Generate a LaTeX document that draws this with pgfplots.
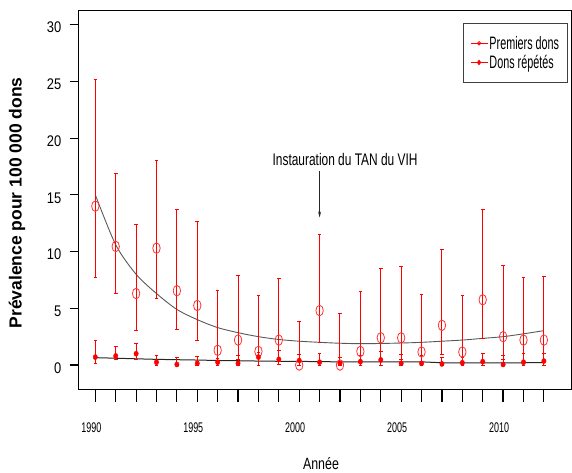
\documentclass[border=0pt]{standalone}
\usepackage{fontspec}
\setmainfont{Liberation Sans}
\newfontfamily\ytf[FakeStretch=0.84]{Liberation Sans}
\newfontfamily\xtf[FakeStretch=0.64]{Liberation Sans}
\newfontfamily\legf[FakeStretch=0.60]{Liberation Sans}
\newfontfamily\annf[FakeStretch=0.71]{Liberation Sans}
\newfontfamily\xlf[FakeStretch=0.76]{Liberation Sans}
\usepackage{pgfplots}
\usepackage{pgfplotstable}
\pgfplotsset{compat=1.18}
\usetikzlibrary{arrows.meta}

% premiers dons: point, error above, error below
\pgfplotstableread{
x     y     ep    em
1990  14.0  11.2  6.3
1991  10.45 6.45  4.15
1992  6.3   6.1   3.25
1993  10.3  7.7   4.45
1994  6.55  7.15  3.4
1995  5.25  7.4   3.1
1996  1.3   5.3   1.1
1997  2.2   5.7   1.75
1998  1.2   4.9   1.2
1999  2.2   5.4   1.9
2000  0.0   3.8   0.0
2001  4.8   6.7   2.85
2002  0.0   4.5   0.0
2003  1.2   5.25  1.1
2004  2.4   6.1   1.9
2005  2.4   6.3   1.9
2006  1.15  5.05  1.1
2007  3.5   6.7   2.6
2008  1.15  5.0   1.1
2009  5.75  7.95  3.45
2010  2.5   6.3   2.0
2011  2.2   5.55  1.9
2012  2.2   5.6   1.9
}\premiers

% dons repetes
\pgfplotstableread{
x     y     ep    em
1990  0.7   1.5   0.55
1991  0.8   0.85  0.35
1992  1.0   0.9   0.5
1993  0.25  0.6   0.25
1994  0.05  0.6   0.05
1995  0.15  0.6   0.15
1996  0.25  0.35  0.25
1997  0.15  0.65  0.15
1998  0.7   0.4   0.7
1999  0.5   0.75  0.45
2000  0.4   0.5   0.4
2001  0.25  0.75  0.25
2002  0.15  0.55  0.15
2003  0.3   0.5   0.3
2004  0.45  0.7   0.45
2005  0.15  0.75  0.15
2006  0.15  0.65  0.15
2007  0.1   0.55  0.1
2008  0.2   0.45  0.2
2009  0.3   0.7   0.3
2010  0.05  0.75  0.05
2011  0.25  0.75  0.25
2012  0.35  0.65  0.35
}\repetes

\begin{document}
\begin{tikzpicture}
\path[use as bounding box] (0pt,0pt) rectangle (572pt,473pt);

\begin{axis}[
  at={(78pt,83pt)}, anchor=south west,
  scale only axis, width=493pt, height=379pt,
  xmin=1989.15, xmax=2013.33, ymin=-2.2, ymax=31.2,
  axis line style={black, line width=1pt},
  tick align=outside,
  xtick pos=bottom, ytick pos=left,
  xtick={1990,...,2012},
  xticklabels={1990,,,,,1995,,,,,2000,,,,,2005,,,,,2010,,},
  ytick={0,5,...,30},
  minor tick num=0,
  xtick style={black, line width=1.2pt, /pgfplots/major tick length=11.7pt},
  ytick style={black, line width=1.1pt, /pgfplots/major tick length=8.5pt},
  /pgf/number format/assume math mode=true,
  /pgf/number format/1000 sep={},
  xticklabel style={font=\xtf\fontsize{14}{14}\selectfont, yshift=-25pt, xshift=-4pt},
  yticklabel style={font=\ytf\fontsize{15.4}{16}\selectfont, yshift=-3pt, xshift=-9pt},
  legend style={
    at={(0.994,0.968)}, anchor=north east,
    draw=black!75, line width=0.9pt,
    font=\legf\fontsize{18}{20}\selectfont,
    inner xsep=7pt, inner ysep=11pt,
    nodes={inner sep=1.5pt},
    row sep=1.5pt,
  },
  legend cell align=left,
]

\addlegendimage{red, line width=0.8pt, mark=o, mark size=1.8pt, mark options={solid}}
\addlegendentry{Premiers dons}
\addlegendimage{red, line width=0.8pt, mark=diamond*, mark size=2.2pt, mark options={solid}}
\addlegendentry{Dons répétés}

% trend lines
\addplot[forget plot, black!65, line width=0.9pt, smooth] coordinates {
(1990,15.0) (1991,10.6) (1992,8.0) (1993,6.3) (1994,4.9) (1995,4.0)
(1996,3.3) (1997,2.85) (1998,2.5) (1999,2.25) (2000,2.1) (2001,2.0)
(2002,1.92) (2003,1.88) (2004,1.9) (2005,1.94) (2006,2.0) (2007,2.1)
(2008,2.2) (2009,2.35) (2010,2.5) (2011,2.75) (2012,3.03)};
\addplot[forget plot, black!85, line width=1pt] coordinates {
(1990,0.65) (1991,0.6) (1992,0.55) (1993,0.5) (1994,0.47) (1995,0.44)
(1996,0.4) (1997,0.38) (1998,0.35) (1999,0.33) (2000,0.32) (2001,0.3)
(2002,0.28) (2003,0.27) (2004,0.27) (2005,0.28) (2006,0.28) (2007,0.2)
(2008,0.2) (2009,0.2) (2010,0.2) (2011,0.2) (2012,0.22)};

% premiers dons
\addplot[forget plot, only marks, red, mark=o, mark size=5.3pt,
  mark options={xscale=0.7, line width=0.8pt, draw=red!80},
  error bars/.cd, y dir=both, y explicit,
  error bar style={draw=red, line width=1pt},
  error mark options={rotate=90, draw=red, mark size=1.8pt, line width=1pt}]
  table[x=x, y=y, y error plus=ep, y error minus=em] {\premiers};

% dons repetes
\addplot[forget plot, only marks, red, mark=*, mark size=2.6pt,
  mark options={xscale=0.85},
  error bars/.cd, y dir=both, y explicit,
  error bar style={draw=red, line width=1pt},
  error mark options={rotate=90, draw=red, mark size=1.8pt, line width=1pt}]
  table[x=x, y=y, y error plus=ep, y error minus=em] {\repetes};

% thicker left and bottom sides
\draw[line width=1.8pt] (rel axis cs:0,1) -- (rel axis cs:0,0) -- (rel axis cs:1,0);

% annotation
\node[font=\annf\fontsize{16.8}{18}\selectfont] at (axis cs:2002.25,18.1) {Instauration du TAN du VIH};
\draw[black!85, line width=0.8pt, -{Stealth[length=6pt,width=3pt]}] (axis cs:2001,17.1) -- (axis cs:2001,13.0);
\end{axis}

\node[font=\xlf\fontsize{16.3}{18}\selectfont] at (321pt,9pt) {Année};
\node[font=\bfseries\fontsize{17.5}{18}\selectfont, rotate=90] at (17pt,270pt) {Prévalence pour 100 000 dons};
\end{tikzpicture}
\end{document}
